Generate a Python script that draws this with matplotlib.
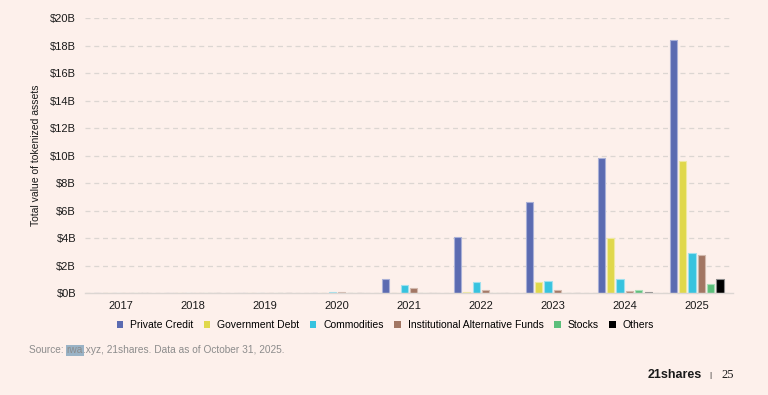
# Valor total de activos tokenizados por categoria (2017-2025)

import numpy as np
import matplotlib.pyplot as plt
from matplotlib.patches import Patch

years = ['2017', '2018', '2019', '2020', '2021', '2022', '2023', '2024', '2025']
series = ['Private Credit', 'Government Debt', 'Commodities',
          'Institutional Alternative Funds', 'Stocks', 'Others']

# valores en miles de millones de USD
private_credit = [0, 0, 0, 0, 1.0, 4.05, 6.65, 9.8, 18.4]
government_debt = [0, 0, 0, 0, 0, 0.08, 0.78, 4.0, 9.6]
commodities = [0, 0.01, 0.01, 0.05, 0.55, 0.8, 0.84, 1.0, 2.9]
alt_funds = [0, 0.01, 0.01, 0.06, 0.33, 0.22, 0.25, 0.15, 2.76]
stocks = [0, 0, 0, 0, 0, 0, 0, 0.25, 0.65]
others = [0, 0, 0, 0, 0, 0, 0, 0.1, 1.0]

valores = [private_credit, government_debt, commodities, alt_funds, stocks, others]
colores = ['#5b6bb1', '#e0d84b', '#37c3df', '#a27663', '#5cbf7b', '#000000']
bordes = ['#a9b0d6', '#efe9a0', '#9fe0ee', '#d2b9ad', '#a9dfb8', '#8a8a8a']

fondo = '#fdf0eb'
fuente = ['Liberation Sans', 'DejaVu Sans']
plt.rcParams['font.family'] = fuente

fig = plt.figure(figsize=(7.68, 3.95), dpi=100, facecolor=fondo)
ax = fig.add_axes([0.1107, 0.2582, 0.8433, 0.6962], facecolor=fondo)

x = np.arange(len(years))
paso = 0.13
ancho = 0.1
for i, vals in enumerate(valores):
    ax.bar(x + (i - 2.5) * paso, vals, width=ancho, color=colores[i],
           edgecolor=bordes[i], linewidth=0.8, zorder=3)

ax.set_xlim(-0.5, len(years) - 0.5)
ax.set_ylim(0, 20)
ax.set_yticks(np.arange(0, 21, 2))
ax.set_yticklabels(['$%dB' % v for v in range(0, 21, 2)], fontsize=8)
ax.set_xticks(x)
ax.set_xticklabels(years, fontsize=8)
ax.tick_params(axis='both', length=0, colors='#1a1a1a')
ax.tick_params(axis='y', pad=6.5)
ax.tick_params(axis='x', pad=6)

ax.grid(axis='y', color='#dcd6d2', linestyle=(0, (4, 3)), linewidth=0.9, zorder=0)
for lado in ['top', 'right', 'left']:
    ax.spines[lado].set_visible(False)
ax.spines['bottom'].set_color('#dcd6d2')
ax.spines['bottom'].set_linewidth(1.0)
ax.spines['bottom'].set_zorder(4)

ax.set_ylabel('Total value of tokenized assets', fontsize=7.5, color='#1a1a1a')
ax.yaxis.set_label_coords(-0.068, 0.5)

# leyenda
handles = [Patch(facecolor=c) for c in colores]
fig.legend(handles, series, loc='center', bbox_to_anchor=(0.502, 0.177), ncol=6,
           frameon=False, handlelength=0.6, handleheight=0.6,
           handletextpad=0.7, columnspacing=1.0,
           prop={'family': fuente, 'size': 7.5})

# fuente, con "rwa" resaltado
t1 = fig.text(0.0378, 0.113, 'Source: ', fontsize=7.3, color='#8c8c8c', va='center')
t2 = ax.annotate('rwa', xy=(1, 0.5), xycoords=t1, va='center', ha='left',
                 fontsize=7.3, color='#8c8c8c', annotation_clip=False,
                 bbox=dict(boxstyle='square,pad=0.08', facecolor='#9ab3c6',
                           edgecolor='none'))
ax.annotate('.xyz, 21shares. Data as of October 31, 2025.', xy=(1, 0.5), xycoords=t2,
            va='center', ha='left', fontsize=7.3, color='#8c8c8c',
            annotation_clip=False)

# logo y numero de pagina
fig.text(0.843, 0.05, '21shares', fontsize=9, fontweight='bold', color='#1a1a1a',
         va='center', ha='left')
fig.text(0.925, 0.05, '|', fontsize=6, color='#1a1a1a', va='center', ha='center')
fig.text(0.94, 0.05, '25', fontsize=9, color='#1a1a1a', va='center', ha='left',
         family='Liberation Serif')

fig.savefig('out.png', dpi=100, facecolor=fondo)
